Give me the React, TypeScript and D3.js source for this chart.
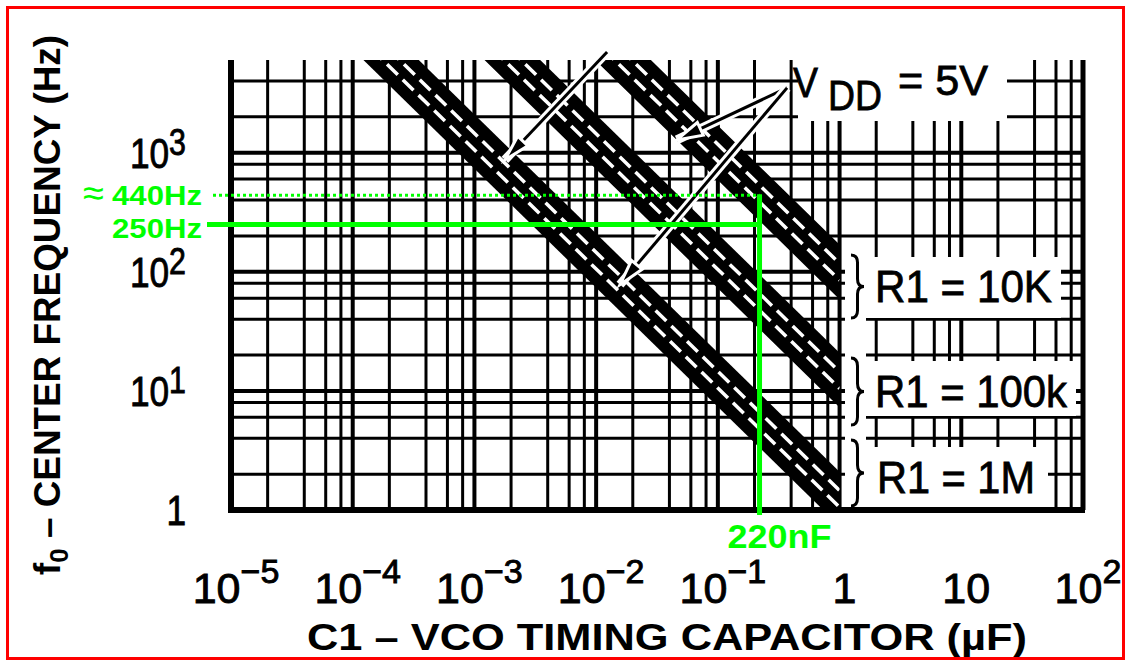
import React from 'react'
import * as d3 from 'd3'

const W = 1131
const H = 666
const plot = { left: 231, right: 1083, top: 60, bottom: 510 }

// axes: C1 in uF, f0 in Hz (log / log)
const capDomain = [1e-5, 1e2]
const freqDomain = [1, 6000]

// log paper grid: lines at 1, 2, 4, 6, 8 of each decade
const gridMantissas = [1, 2, 4, 6, 8]
const capDecades = [-5, -4, -3, -2, -1, 0, 1]
const freqDecades = [0, 1, 2, 3]

const xTicks = [1e-5, 1e-4, 1e-3, 1e-2, 1e-1, 1, 10, 100]
const xTickBase = ['10', '10', '10', '10', '10', '1', '10', '10']
const xTickExp = ['\u22125', '\u22124', '\u22123', '\u22122', '\u22121', '', '', '2']

const yTicks = [1, 10, 100, 1000]
const yTickBase = ['1', '10', '10', '10']
const yTickExp = ['', '1', '2', '3']

// three bands (R1), each with three lines (VDD 5V / 10V / 15V)
const bandNames = ['R1 = 10K', 'R1 = 100k', 'R1 = 1M']
// C1 (uF) where each line crosses 10 kHz, and f0 (Hz) of each line at C1 = 1 uF
const capAt10k = [
  [0.0072, 0.01, 0.0138],
  [0.00089, 0.00123, 0.0017],
  [0.00009, 0.000124, 0.000171],
]
const freqAt1uF = [
  [72, 100, 138],
  [8.9, 12.3, 17],
  [0.9, 1.24, 1.71],
]

// VDD = 5V pointers: [tail C, tail f, tip C, tip f]
const arrows = [
  [0.37, 3500, 0.046, 1280],
  [0.37, 3500, 0.0157, 78],
  [0.0123, 7000, 0.00178, 870],
]

// green annotation
const markCap = 0.22
const markFreqHigh = 440
const markFreqLow = 250

const green = '#00ff00'
const font = 'Liberation Sans, Arial, Helvetica, sans-serif'

function bracePath(x: number, y0: number, y1: number, w: number) {
  const ym = (y0 + y1) / 2
  const q = (y1 - y0) * 0.12
  const xm = x + w / 2
  return `M${x},${y0} Q${xm},${y0} ${xm},${y0 + q} L${xm},${ym - q} Q${xm},${ym} ${x + w},${ym} ` +
    `Q${xm},${ym} ${xm},${ym + q} L${xm},${y1 - q} Q${xm},${y1} ${x},${y1}`
}

function arrowHead(x1: number, y1: number, x2: number, y2: number, len: number, half: number) {
  const a = Math.atan2(y2 - y1, x2 - x1)
  const bx = x2 - len * Math.cos(a)
  const by = y2 - len * Math.sin(a)
  const px = -Math.sin(a) * half
  const py = Math.cos(a) * half
  return `M${x2},${y2} L${bx + px},${by + py} L${bx - px},${by - py} Z`
}

export default function App() {
  const x = d3.scaleLog().domain(capDomain).range([plot.left, plot.right])
  const y = d3.scaleLog().domain(freqDomain).range([plot.bottom, plot.top])

  const vGrid = capDecades
    .flatMap(d => gridMantissas.map(m => m * Math.pow(10, d)))
    .filter(v => v > capDomain[0] * 1.001 && v < capDomain[1] * 0.999)
  const hGrid = freqDecades
    .flatMap(d => gridMantissas.map(m => m * Math.pow(10, d)))
    .filter(v => v > freqDomain[0] * 1.001 && v < freqDomain[1] * 0.99)

  const line = d3.line<[number, number]>().x(d => x(d[0])).y(d => y(d[1]))

  const isDecade = (v: number) => Math.abs(Math.log10(v) - Math.round(Math.log10(v))) < 1e-6

  return (
    <svg width={W} height={H} style={{ position: 'absolute', left: 0, top: 0, background: '#fff' }} fontFamily={font}>
      <defs>
        <clipPath id="plotClip">
          <rect x={plot.left} y={plot.top} width={plot.right - plot.left} height={plot.bottom - plot.top} />
        </clipPath>
        <clipPath id="bandClip">
          <rect x={plot.left} y={plot.top} width={x(1) - plot.left} height={plot.bottom - plot.top} />
        </clipPath>
      </defs>
      <rect width={W} height={H} fill="#fff" />

      {/* grid */}
      <g clipPath="url(#plotClip)" stroke="#000">
        {vGrid.map((v, i) => (
          <line key={'v' + i} x1={x(v)} x2={x(v)} y1={plot.top} y2={plot.bottom} strokeWidth={isDecade(v) ? 4 : 3} />
        ))}
        {hGrid.map((v, i) => (
          <line key={'h' + i} x1={plot.left} x2={plot.right} y1={y(v)} y2={y(v)} strokeWidth={isDecade(v) ? 4 : 3} />
        ))}
      </g>

      {/* white label areas */}
      <g fill="#fff">
        <rect x={798} y={50} width={209} height={71} />
        <rect x={845} y={250} width={21} height={257} />
        <rect x={866} y={257} width={195} height={61} />
        <rect x={866} y={361} width={210} height={55} />
        <rect x={866} y={447} width={182} height={60} />
      </g>

      {/* bands */}
      <g clipPath="url(#bandClip)" fill="none">
        {capAt10k.map((caps, b) =>
          caps.map((c, i) => (
            <path key={'b' + b + i} d={line([[c, 1e4], [1, freqAt1uF[b][i]]]) || ''}
              stroke="#000" strokeWidth={15} strokeLinecap="square" />
          ))
        )}
        {capAt10k.map((caps, b) =>
          caps.slice(1).map((c, i) => (
            <path key={'g' + b + i}
              d={line([[Math.sqrt(c * caps[i]), 1e4], [1, Math.sqrt(freqAt1uF[b][i] * freqAt1uF[b][i + 1])]]) || ''}
              stroke="#fff" strokeWidth={3.5} strokeDasharray="15 7" />
          ))
        )}
      </g>

      {/* borders */}
      <g stroke="#000">
        <line x1={plot.left} x2={plot.left} y1={plot.top} y2={plot.bottom + 3} strokeWidth={6} />
        <line x1={plot.left - 3} x2={plot.right + 2} y1={plot.bottom} y2={plot.bottom} strokeWidth={6} />
        <line x1={plot.right} x2={plot.right} y1={plot.top} y2={plot.bottom} strokeWidth={5} />
      </g>

      {/* VDD pointers */}
      <g>
        {arrows.map((a, i) => {
          const x1 = x(a[0]), y1 = y(a[1]), x2 = x(a[2]), y2 = y(a[3])
          return (
            <g key={'a' + i}>
              <line x1={x1} y1={y1} x2={x2} y2={y2} stroke="#fff" strokeWidth={9} />
              <line x1={x1} y1={y1} x2={x2} y2={y2} stroke="#000" strokeWidth={3} />
              <path d={arrowHead(x1, y1, x2, y2, 26, 7)} fill="#000" stroke="#fff" strokeWidth={3} />
            </g>
          )
        })}
      </g>

      {/* band braces and names */}
      <g fill="none" stroke="#000" strokeWidth={3}>
        <path d={bracePath(851, 255, 318, 13)} />
        <path d={bracePath(851, 358, 425, 13)} />
        <path d={bracePath(851, 440, 506, 13)} />
      </g>
      <g fontSize={45} fill="#000" stroke="#000" strokeWidth={0.8}>
        <text x={875} y={302} textLength={177} lengthAdjust="spacingAndGlyphs">{bandNames[0]}</text>
        <text x={875} y={407} textLength={192} lengthAdjust="spacingAndGlyphs">{bandNames[1]}</text>
        <text x={877} y={493} textLength={158} lengthAdjust="spacingAndGlyphs">{bandNames[2]}</text>
      </g>

      {/* VDD label */}
      <g fontSize={42} fill="#000" stroke="#000" strokeWidth={0.8}>
        <text x={793} y={97} textLength={25} lengthAdjust="spacingAndGlyphs">V</text>
        <text x={828} y={110} textLength={54} lengthAdjust="spacingAndGlyphs">DD</text>
        <text x={898} y={95} textLength={90} lengthAdjust="spacingAndGlyphs">= 5V</text>
      </g>

      {/* tick labels */}
      <g fontSize={43} fill="#000" stroke="#000" strokeWidth={0.9}>
        {xTicks.map((v, i) => (
          <text key={'xt' + i} x={x(v) + 5} y={603} textAnchor="middle">
            {xTickBase[i]}
            {xTickExp[i] && <tspan dy={-20} fontSize={34}>{xTickExp[i]}</tspan>}
          </text>
        ))}
        {yTicks.map((v, i) => (
          <text key={'yt' + i} transform={`translate(186,${y(v) + 15}) scale(0.82,1)`} textAnchor="end">
            {yTickBase[i]}
            {yTickExp[i] && <tspan dy={-13} fontSize={37}>{yTickExp[i]}</tspan>}
          </text>
        ))}
      </g>

      {/* axis titles */}
      <text x={667} y={650} textAnchor="middle" fontWeight="bold" fontSize={37} textLength={720}
        lengthAdjust="spacingAndGlyphs">C1 – VCO TIMING CAPACITOR (µF)</text>
      <text transform="translate(60,305) rotate(-90)" textAnchor="middle" fontWeight="bold" fontSize={37}
        textLength={540} lengthAdjust="spacingAndGlyphs">
        f<tspan dy={8} fontSize={26}>0</tspan><tspan dy={-8}> – CENTER FREQUENCY (Hz)</tspan>
      </text>

      {/* green annotation */}
      <g>
        <line x1={213} x2={x(markCap)} y1={y(markFreqHigh)} y2={y(markFreqHigh)} stroke={green} strokeWidth={3}
          strokeDasharray="3 3" />
        <line x1={207} x2={x(markCap) + 2} y1={y(markFreqLow)} y2={y(markFreqLow)} stroke={green} strokeWidth={5} />
        <line x1={x(markCap)} x2={x(markCap)} y1={y(markFreqHigh) - 1} y2={plot.bottom + 5} stroke={green}
          strokeWidth={5} />
        <text x={83} y={206} fontSize={38} fill={green}>≈</text>
        <text x={112} y={205} fontSize={28} fontWeight="bold" fill={green} textLength={90}
          lengthAdjust="spacingAndGlyphs">{markFreqHigh}Hz</text>
        <text x={112} y={238} fontSize={28} fontWeight="bold" fill={green} textLength={90}
          lengthAdjust="spacingAndGlyphs">{markFreqLow}Hz</text>
        <text x={x(markCap) + 20} y={548} textAnchor="middle" fontSize={33} fontWeight="bold" fill={green}
          textLength={104} lengthAdjust="spacingAndGlyphs">220nF</text>
      </g>

      {/* frame */}
      <rect x={7.5} y={7.5} width={1116} height={651} fill="none" stroke="#ff0000" strokeWidth={3} />
    </svg>
  )
}
